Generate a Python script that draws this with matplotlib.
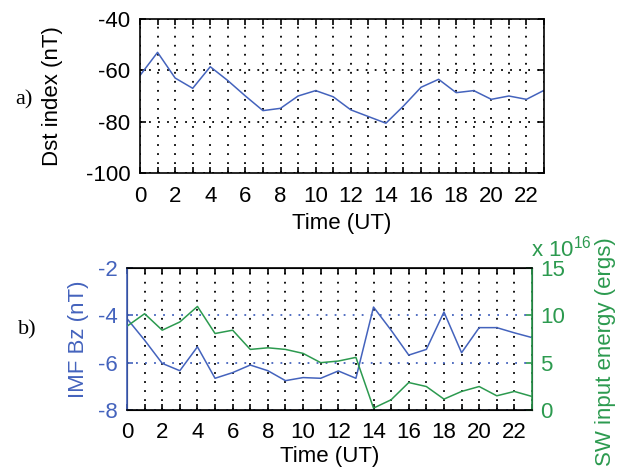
import numpy as np
import matplotlib
matplotlib.use('Agg')
from matplotlib import pyplot as plt
from matplotlib.ticker import ScalarFormatter

plt.rcParams['font.family'] = ['Liberation Sans', 'DejaVu Sans']
plt.rcParams['mathtext.fontset'] = 'custom'
plt.rcParams['mathtext.rm'] = 'Liberation Sans'
plt.rcParams['lines.scale_dashes'] = False
plt.rcParams['axes.unicode_minus'] = False

hours = list(range(24))
dst = [-62, -53, -63, -67, -58.6, -64, -70, -75.7, -74.8, -70, -67.9, -70.3,
       -75.4, -78, -80.6, -73.9, -66.6, -63.5, -68.7, -67.9, -71.3, -70, -71.3, -67.8]
imf_bz = [-4.14, -5.05, -6.03, -6.34, -5.33, -6.66, -6.42, -6.10, -6.34, -6.76, -6.63, -6.66,
          -6.35, -6.66, -3.65, -4.63, -5.68, -5.44, -3.86, -5.58, -4.52, -4.52, -4.74, -4.94]
sw_energy = [8.85, 10.17, 8.43, 9.3, 10.94, 8.08, 8.43, 6.4, 6.57, 6.4, 5.98, 5.0,
             5.17, 5.56, 0.2, 1.08, 2.9, 2.48, 1.15, 1.96, 2.48, 1.5, 1.96, 1.43]
sw_energy = np.array(sw_energy) * 1e16

blue = '#4463bd'
green = '#2c9a4f'
fs = 16
dots = (0, (1.3, 5.2))

xlabels = [str(h) if h % 2 == 0 else '' for h in hours]

fig = plt.figure(figsize=(6.27, 4.70), dpi=100)

# a) Dst index
ax = fig.add_axes([140/627, (470-173)/470, 404/627, 154/470])
ax.plot(hours, dst, color=blue, lw=1.1)
ax.set_xlim(0, 23)
ax.set_ylim(-100, -40)
ax.set_xticks(hours)
ax.set_xticklabels(xlabels)
ax.set_yticks([-100, -80, -60, -40])
ax.grid(True, color='k', linestyle=dots, lw=1.3)
ax.tick_params(direction='in', top=True, right=True, length=4, width=1.2,
               labelsize=fs, pad=7)
ax.tick_params(axis='x', pad=9)
for s in ax.spines.values():
    s.set_linewidth(1.2)
ax.set_ylabel('Dst index (nT)', fontsize=fs)
ax.yaxis.set_label_coords(-0.19, 0.5)
ax.set_xlabel('Time (UT)', fontsize=fs, labelpad=5)
fig.text(24/627, 1-100/470, 'a)', family='Liberation Serif', fontsize=16,
         ha='center', va='center')

# b) IMF Bz and solar wind input energy
bx = fig.add_axes([127/627, (470-410)/470, 405/627, 142/470])
bx.plot(hours, imf_bz, color=blue, lw=1.1)
bx.set_xlim(0, 23)
bx.set_ylim(-8, -2)
bx.set_xticks(hours)
bx.set_xticklabels(xlabels)
bx.set_yticks([-8, -6, -4, -2])
bx.grid(True, axis='x', color='k', linestyle=dots, lw=1.3)
bx.grid(True, axis='y', color=blue, linestyle=dots, lw=1.3)
bx.tick_params(axis='x', direction='in', top=True, length=4, width=1.2,
               labelsize=fs, pad=9)
bx.tick_params(axis='y', direction='in', length=4, width=1.2, labelsize=fs,
               pad=7, colors=blue)
bx.set_ylabel('IMF Bz (nT)', fontsize=fs, color=blue)
bx.yaxis.set_label_coords(-0.095, 0.5)
bx.set_xlabel('Time (UT)', fontsize=fs, labelpad=2)

bx2 = bx.twinx()
bx2.plot(hours, sw_energy, color=green, lw=1.1)
bx2.set_ylim(0, 15e16)
bx2.set_yticks([0, 5e16, 10e16, 15e16])
fmt = ScalarFormatter()
fmt.set_powerlimits((16, 16))
bx2.yaxis.set_major_formatter(fmt)
bx2.yaxis.get_offset_text().set_visible(False)
bx2.tick_params(axis='y', direction='in', length=4, width=1.2, labelsize=fs,
                pad=6, colors=green)
bx2.set_ylabel('SW input energy (ergs)', fontsize=fs, color=green)
bx2.yaxis.set_label_coords(1.155, 0.41)
fig.text(531/627, 1-257/470, r'x 10$^{16}$', fontsize=fs, color=green,
         ha='left', va='baseline')

for s in ['top', 'bottom']:
    bx2.spines[s].set_linewidth(1.2)
bx2.spines['left'].set_color(blue)
bx2.spines['left'].set_linewidth(1.2)
bx2.spines['right'].set_color(green)
bx2.spines['right'].set_linewidth(1.2)
fig.text(27/627, 1-330/470, 'b)', family='Liberation Serif', fontsize=16,
         ha='center', va='center')

fig.savefig('out.png', dpi=100)
